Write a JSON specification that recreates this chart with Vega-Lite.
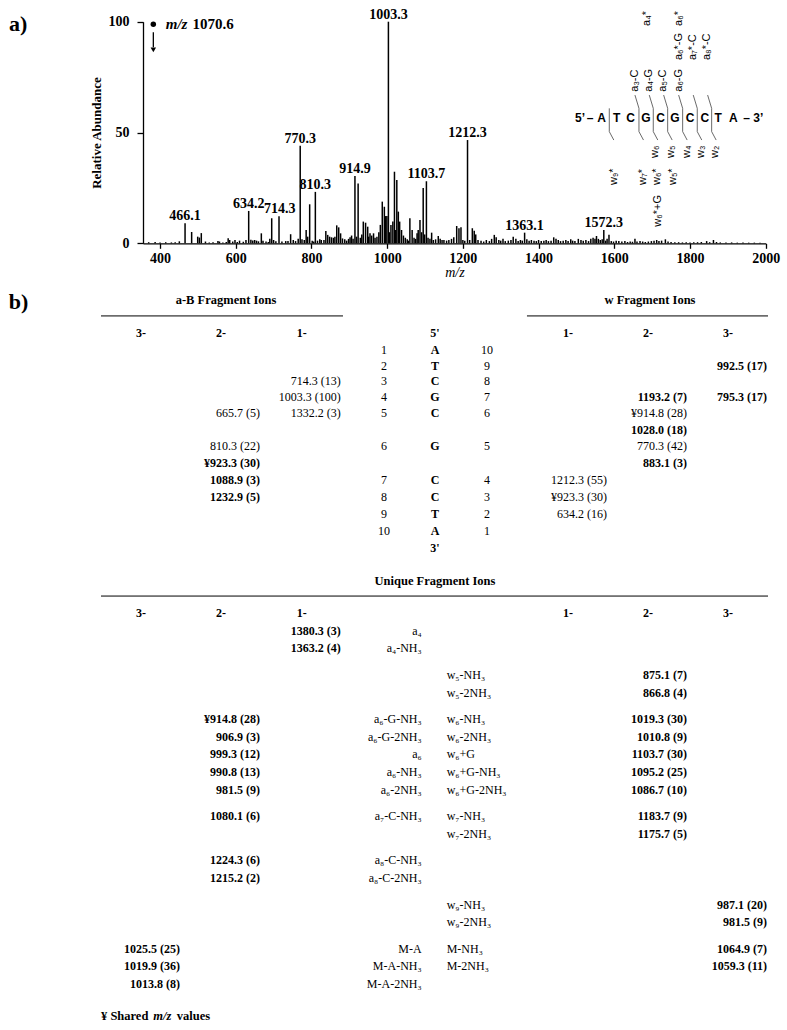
{
  "$schema": "https://vega.github.io/schema/vega-lite/v6.json",
  "width": 787,
  "height": 1030,
  "padding": 0,
  "autosize": {"type": "none"},
  "config": {"view": {"stroke": null}, "text": {"color": "#000000", "fill": "#000000"}},
  "datasets": {
    "peaks": [
      {"mz":370,"ab":0.5},{"mz":387,"ab":0.6},{"mz":400,"ab":0.4},{"mz":415,"ab":0.5},{"mz":430,"ab":0.4},{"mz":440,"ab":0.5},{"mz":451,"ab":0.9},{"mz":466.1,"ab":9.0},{"mz":483.5,"ab":5.1},{"mz":499.5,"ab":3.0},{"mz":504,"ab":2.6},{"mz":509,"ab":4.6},{"mz":520,"ab":0.8},{"mz":530,"ab":0.4},{"mz":540,"ab":0.5},{"mz":553,"ab":1.0},{"mz":557,"ab":0.8},{"mz":566,"ab":0.4},{"mz":575,"ab":0.6},{"mz":580,"ab":2.3},{"mz":584,"ab":1.5},{"mz":592,"ab":0.8},{"mz":598,"ab":1.5},{"mz":604,"ab":0.6},{"mz":610,"ab":1.2},{"mz":620,"ab":0.7},{"mz":627,"ab":1.5},{"mz":634.2,"ab":14.6},{"mz":640,"ab":1.6},{"mz":645,"ab":1.3},{"mz":650,"ab":1.5},{"mz":655,"ab":1.2},{"mz":660,"ab":0.9},{"mz":667.6,"ab":4.5},{"mz":672,"ab":1.2},{"mz":680,"ab":0.8},{"mz":686,"ab":0.6},{"mz":690,"ab":2.0},{"mz":695,"ab":11.3},{"mz":700,"ab":1.5},{"mz":706,"ab":0.9},{"mz":714.3,"ab":12.2},{"mz":722,"ab":0.8},{"mz":732,"ab":1.0},{"mz":738,"ab":1.0},{"mz":745,"ab":4.1},{"mz":752,"ab":1.5},{"mz":758,"ab":1.0},{"mz":765,"ab":2.0},{"mz":770.3,"ab":44},{"mz":775,"ab":1.8},{"mz":781,"ab":1.5},{"mz":786,"ab":6.0},{"mz":790,"ab":3.0},{"mz":795.3,"ab":17.6},{"mz":802,"ab":1.2},{"mz":806,"ab":0.8},{"mz":810.3,"ab":23.2},{"mz":816,"ab":1.2},{"mz":822,"ab":1.8},{"mz":826,"ab":1.5},{"mz":833,"ab":1.5},{"mz":838,"ab":5.6},{"mz":843,"ab":3.8},{"mz":848,"ab":3.0},{"mz":853,"ab":2.7},{"mz":858,"ab":2.5},{"mz":862,"ab":3.0},{"mz":866.8,"ab":8.1},{"mz":872,"ab":7.2},{"mz":877,"ab":4.5},{"mz":882,"ab":2.2},{"mz":888,"ab":1.8},{"mz":893,"ab":1.2},{"mz":898,"ab":2.0},{"mz":902,"ab":2.7},{"mz":906,"ab":3.5},{"mz":910,"ab":2.0},{"mz":914.9,"ab":30.4},{"mz":919,"ab":3.0},{"mz":923.3,"ab":27.0},{"mz":929,"ab":2.5},{"mz":933,"ab":4.0},{"mz":937,"ab":9.8},{"mz":943,"ab":9.3},{"mz":948.6,"ab":7.5},{"mz":951,"ab":3.0},{"mz":954.7,"ab":4.5},{"mz":959,"ab":3.5},{"mz":964,"ab":4.5},{"mz":968,"ab":2.5},{"mz":973,"ab":3.0},{"mz":978,"ab":5.0},{"mz":982,"ab":8.3},{"mz":987.1,"ab":18.8},{"mz":992.6,"ab":16.5},{"mz":996,"ab":12.3},{"mz":999.3,"ab":12.3},{"mz":1003.3,"ab":100},{"mz":1006,"ab":5},{"mz":1010,"ab":8.3},{"mz":1015,"ab":9.8},{"mz":1019.3,"ab":32.3},{"mz":1022,"ab":6},{"mz":1025.5,"ab":28.6},{"mz":1029.5,"ab":14.3},{"mz":1033,"ab":9.8},{"mz":1038,"ab":6.0},{"mz":1043,"ab":3.5},{"mz":1048,"ab":2.5},{"mz":1053,"ab":1.8},{"mz":1056,"ab":1.2},{"mz":1060,"ab":11.3},{"mz":1066,"ab":6.0},{"mz":1071,"ab":2.5},{"mz":1075,"ab":2.0},{"mz":1079,"ab":4.5},{"mz":1082,"ab":6.0},{"mz":1086.7,"ab":10.5},{"mz":1091,"ab":5.0},{"mz":1095.2,"ab":25},{"mz":1099,"ab":4.0},{"mz":1103.7,"ab":28},{"mz":1108,"ab":2.5},{"mz":1113,"ab":2.0},{"mz":1117.5,"ab":4.8},{"mz":1122,"ab":1.5},{"mz":1128,"ab":1.8},{"mz":1135,"ab":3.3},{"mz":1140,"ab":2.0},{"mz":1145,"ab":1.5},{"mz":1150,"ab":1.5},{"mz":1157,"ab":1.2},{"mz":1163,"ab":1.5},{"mz":1170,"ab":2.0},{"mz":1176,"ab":2.7},{"mz":1183.7,"ab":7.8},{"mz":1189.7,"ab":6.8},{"mz":1195,"ab":7.2},{"mz":1200,"ab":1.5},{"mz":1205,"ab":1.2},{"mz":1212.3,"ab":46.6},{"mz":1218,"ab":1.5},{"mz":1225,"ab":6.8},{"mz":1230,"ab":5.7},{"mz":1234,"ab":4.0},{"mz":1240,"ab":1.5},{"mz":1248,"ab":1.2},{"mz":1255,"ab":0.8},{"mz":1262,"ab":1.5},{"mz":1270,"ab":1.0},{"mz":1276,"ab":2.0},{"mz":1283,"ab":3.8},{"mz":1288,"ab":2.7},{"mz":1295,"ab":1.5},{"mz":1300,"ab":1.2},{"mz":1306,"ab":2.0},{"mz":1312,"ab":1.0},{"mz":1320,"ab":1.2},{"mz":1327,"ab":1.5},{"mz":1333,"ab":3.0},{"mz":1340,"ab":2.0},{"mz":1346,"ab":1.0},{"mz":1352,"ab":1.5},{"mz":1357,"ab":1.2},{"mz":1363.1,"ab":4.8},{"mz":1369,"ab":1.8},{"mz":1375,"ab":1.2},{"mz":1381,"ab":1.5},{"mz":1388,"ab":1.2},{"mz":1394,"ab":1.0},{"mz":1400,"ab":1.5},{"mz":1407,"ab":1.0},{"mz":1414,"ab":1.2},{"mz":1420,"ab":1.5},{"mz":1426,"ab":1.0},{"mz":1433,"ab":1.2},{"mz":1440,"ab":2.7},{"mz":1446,"ab":2.0},{"mz":1452,"ab":1.5},{"mz":1458,"ab":1.0},{"mz":1465,"ab":1.2},{"mz":1472,"ab":1.5},{"mz":1478,"ab":1.0},{"mz":1485,"ab":1.8},{"mz":1490,"ab":1.2},{"mz":1496,"ab":1.0},{"mz":1505,"ab":2.0},{"mz":1512,"ab":1.5},{"mz":1518,"ab":1.2},{"mz":1525,"ab":1.5},{"mz":1532,"ab":1.0},{"mz":1538,"ab":2.0},{"mz":1544,"ab":2.5},{"mz":1549,"ab":2.0},{"mz":1553,"ab":3.3},{"mz":1558,"ab":2.0},{"mz":1563,"ab":1.5},{"mz":1568,"ab":1.8},{"mz":1572.3,"ab":6.0},{"mz":1577,"ab":1.2},{"mz":1581,"ab":2.0},{"mz":1586,"ab":3.9},{"mz":1592,"ab":1.0},{"mz":1598,"ab":0.8},{"mz":1605,"ab":1.2},{"mz":1612,"ab":1.0},{"mz":1620,"ab":0.8},{"mz":1628,"ab":1.0},{"mz":1635,"ab":0.6},{"mz":1642,"ab":0.8},{"mz":1648,"ab":0.7},{"mz":1654.6,"ab":2.1},{"mz":1660,"ab":0.8},{"mz":1668,"ab":1.0},{"mz":1675,"ab":0.8},{"mz":1682,"ab":0.6},{"mz":1690,"ab":0.8},{"mz":1698,"ab":1.0},{"mz":1705,"ab":1.2},{"mz":1712,"ab":1.5},{"mz":1718,"ab":1.0},{"mz":1725,"ab":1.2},{"mz":1735,"ab":1.8},{"mz":1742,"ab":0.8},{"mz":1750,"ab":0.6},{"mz":1760,"ab":0.5},{"mz":1770,"ab":0.5},{"mz":1780,"ab":0.4},{"mz":1790,"ab":0.5},{"mz":1800,"ab":0.4},{"mz":1810,"ab":0.5},{"mz":1820,"ab":0.5},{"mz":1830,"ab":0.6},{"mz":1844,"ab":1.0},{"mz":1852,"ab":0.5},{"mz":1862,"ab":1.5},{"mz":1870,"ab":0.6},{"mz":1880,"ab":0.4},{"mz":1895,"ab":0.4},{"mz":1910,"ab":0.4},{"mz":1925,"ab":0.3},{"mz":1940,"ab":0.4},{"mz":1955,"ab":0.3},{"mz":1970,"ab":0.3},{"mz":1985,"ab":0.3}
    ],
    "peakLabels": [
      {"mz":466.1,"ab":9.0,"lab":"466.1"},{"mz":634.2,"ab":14.6,"lab":"634.2"},{"mz":716,"ab":12.2,"lab":"714.3"},{"mz":770.3,"ab":44,"lab":"770.3"},{"mz":810.3,"ab":23.2,"lab":"810.3"},{"mz":914.9,"ab":30.4,"lab":"914.9"},{"mz":1003.3,"ab":100,"lab":"1003.3"},{"mz":1103.7,"ab":28,"lab":"1103.7"},{"mz":1212.3,"ab":46.6,"lab":"1212.3"},{"mz":1363.1,"ab":4.8,"lab":"1363.1"},{"mz":1572.3,"ab":6.0,"lab":"1572.3"}
    ],
    "seq": [
      {"mz":1509.4,"ab":56.4,"t":"5’"},{"mz":1535.8,"ab":56.4,"t":"–"},{"mz":1566.7,"ab":56.4,"t":"A"},{"mz":1606.3,"ab":56.4,"t":"T"},{"mz":1643.3,"ab":56.4,"t":"C"},{"mz":1683.7,"ab":56.4,"t":"G"},{"mz":1722.5,"ab":56.4,"t":"C"},{"mz":1760.3,"ab":56.4,"t":"G"},{"mz":1799.9,"ab":56.4,"t":"C"},{"mz":1839.5,"ab":56.4,"t":"C"},{"mz":1874.6,"ab":56.4,"t":"T"},{"mz":1914.3,"ab":56.4,"t":"A"},{"mz":1949.7,"ab":56.4,"t":"–"},{"mz":1980.3,"ab":56.4,"t":"3’"}
    ],
    "cuts": [
      {"mz":1586.8,"ab":60.9,"mz2":1586.8,"ab2":50.4},{"mz":1586.8,"ab":50.4,"mz2":1598.7,"ab2":46.6},
      {"mz":1654.6,"ab":66.9,"mz2":1665.2,"ab2":60.9},{"mz":1665.2,"ab":60.9,"mz2":1665.2,"ab2":50.4},{"mz":1665.2,"ab":50.4,"mz2":1677.1,"ab2":46.6},
      {"mz":1692.4,"ab":66.9,"mz2":1703,"ab2":60.9},{"mz":1703,"ab":60.9,"mz2":1703,"ab2":50.4},{"mz":1703,"ab":50.4,"mz2":1714.9,"ab2":46.6},
      {"mz":1730.4,"ab":66.9,"mz2":1741,"ab2":60.9},{"mz":1741,"ab":60.9,"mz2":1741,"ab2":50.4},{"mz":1741,"ab":50.4,"mz2":1752.9,"ab2":46.6},
      {"mz":1770,"ab":66.9,"mz2":1780.6,"ab2":60.9},{"mz":1780.6,"ab":60.9,"mz2":1780.6,"ab2":50.4},{"mz":1780.6,"ab":50.4,"mz2":1792.5,"ab2":46.6},
      {"mz":1808.6,"ab":66.9,"mz2":1819.2,"ab2":60.9},{"mz":1819.2,"ab":60.9,"mz2":1819.2,"ab2":50.4},{"mz":1819.2,"ab":50.4,"mz2":1831.1,"ab2":46.6},
      {"mz":1846.6,"ab":66.9,"mz2":1857.2,"ab2":60.9},{"mz":1857.2,"ab":60.9,"mz2":1857.2,"ab2":50.4},{"mz":1857.2,"ab":50.4,"mz2":1869.1,"ab2":46.6}
    ],
    "ions": [
      {"mz":1654.6,"ab":68.4,"t":"a₃-C"},{"mz":1691.6,"ab":68.4,"t":"a₄-G"},{"mz":1729.4,"ab":68.4,"t":"a₅-C"},{"mz":1771.6,"ab":68.4,"t":"a₆-G"},
      {"mz":1771.6,"ab":82.7,"t":"a₆*-G"},{"mz":1808.6,"ab":82.7,"t":"a₇*-C"},{"mz":1845.6,"ab":82.7,"t":"a₈*-C"},
      {"mz":1685.5,"ab":98.1,"t":"a₄*"},{"mz":1771.6,"ab":98.1,"t":"a₆*"},
      {"mz":1707.5,"ab":38.5,"t":"w₆"},{"mz":1749,"ab":38.5,"t":"w₅"},{"mz":1791.2,"ab":38.5,"t":"w₄"},{"mz":1829,"ab":38.5,"t":"w₃"},{"mz":1866,"ab":38.5,"t":"w₂"},
      {"mz":1599,"ab":26.3,"t":"w₉*"},{"mz":1676.5,"ab":26.3,"t":"w₇*"},{"mz":1713.4,"ab":26.3,"t":"w₆*"},{"mz":1755.7,"ab":26.3,"t":"w₅*"},
      {"mz":1716,"ab":7.5,"t":"w₆*+G"}
    ],
    "precursor": [
      {"mz":382.3,"ab":98.9,"t":"m/z","t2":"1070.6","mz_t":415,"mz_t2":486}
    ],
    "table": [
      {"col":0.575,"row":-2,"t":"a-B Fragment Ions","kind":"title"},
      {"col":6.5375,"row":-2,"t":"w Fragment Ions","kind":"title"},
      {"col":4,"row":15.02,"t":"Unique Fragment Ions","kind":"title"},
      {"col":-2.14,"row":-1.9,"t":"b)","kind":"panel"},
      {"col":0,"row":0,"t":"3-","kind":"hdr"},{"col":1,"row":0,"t":"2-","kind":"hdr"},{"col":2,"row":0,"t":"1-","kind":"hdr"},
      {"col":6,"row":0,"t":"1-","kind":"hdr"},{"col":7,"row":0,"t":"2-","kind":"hdr"},{"col":8,"row":0,"t":"3-","kind":"hdr"},
      {"col":4,"row":0,"t":"5'","kind":"base"},{"col":4,"row":13,"t":"3'","kind":"base"},
      {"col":3,"row":1,"t":"1","kind":"pos"},{"col":4,"row":1,"t":"A","kind":"base"},{"col":5,"row":1,"t":"10","kind":"pos"},
      {"col":3,"row":2,"t":"2","kind":"pos"},{"col":4,"row":2,"t":"T","kind":"base"},{"col":5,"row":2,"t":"9","kind":"pos"},
      {"col":3,"row":3,"t":"3","kind":"pos"},{"col":4,"row":3,"t":"C","kind":"base"},{"col":5,"row":3,"t":"8","kind":"pos"},
      {"col":3,"row":4,"t":"4","kind":"pos"},{"col":4,"row":4,"t":"G","kind":"base"},{"col":5,"row":4,"t":"7","kind":"pos"},
      {"col":3,"row":5,"t":"5","kind":"pos"},{"col":4,"row":5,"t":"C","kind":"base"},{"col":5,"row":5,"t":"6","kind":"pos"},
      {"col":3,"row":7,"t":"6","kind":"pos"},{"col":4,"row":7,"t":"G","kind":"base"},{"col":5,"row":7,"t":"5","kind":"pos"},
      {"col":3,"row":9,"t":"7","kind":"pos"},{"col":4,"row":9,"t":"C","kind":"base"},{"col":5,"row":9,"t":"4","kind":"pos"},
      {"col":3,"row":10,"t":"8","kind":"pos"},{"col":4,"row":10,"t":"C","kind":"base"},{"col":5,"row":10,"t":"3","kind":"pos"},
      {"col":3,"row":11,"t":"9","kind":"pos"},{"col":4,"row":11,"t":"T","kind":"base"},{"col":5,"row":11,"t":"2","kind":"pos"},
      {"col":3,"row":12,"t":"10","kind":"pos"},{"col":4,"row":12,"t":"A","kind":"base"},{"col":5,"row":12,"t":"1","kind":"pos"},
      {"col":8,"row":2,"t":"992.5 (17)","kind":"val","b":true},
      {"col":2,"row":3,"t":"714.3 (13)","kind":"val","b":false},
      {"col":2,"row":4,"t":"1003.3 (100)","kind":"val","b":false},
      {"col":7,"row":4,"t":"1193.2 (7)","kind":"val","b":true},
      {"col":8,"row":4,"t":"795.3 (17)","kind":"val","b":true},
      {"col":1,"row":5,"t":"665.7 (5)","kind":"val","b":false},
      {"col":2,"row":5,"t":"1332.2 (3)","kind":"val","b":false},
      {"col":7,"row":5,"t":"¥914.8 (28)","kind":"val","b":false},
      {"col":7,"row":6,"t":"1028.0 (18)","kind":"val","b":true},
      {"col":1,"row":7,"t":"810.3 (22)","kind":"val","b":false},
      {"col":7,"row":7,"t":"770.3 (42)","kind":"val","b":false},
      {"col":1,"row":8,"t":"¥923.3 (30)","kind":"val","b":true},
      {"col":7,"row":8,"t":"883.1 (3)","kind":"val","b":true},
      {"col":1,"row":9,"t":"1088.9 (3)","kind":"val","b":true},
      {"col":6,"row":9,"t":"1212.3 (55)","kind":"val","b":false},
      {"col":1,"row":10,"t":"1232.9 (5)","kind":"val","b":true},
      {"col":6,"row":10,"t":"¥923.3 (30)","kind":"val","b":false},
      {"col":6,"row":11,"t":"634.2 (16)","kind":"val","b":false},
      {"col":0,"row":17,"t":"3-","kind":"hdr"},{"col":1,"row":17,"t":"2-","kind":"hdr"},{"col":2,"row":17,"t":"1-","kind":"hdr"},
      {"col":6,"row":17,"t":"1-","kind":"hdr"},{"col":7,"row":17,"t":"2-","kind":"hdr"},{"col":8,"row":17,"t":"3-","kind":"hdr"},
      {"col":2,"row":18,"t":"1380.3 (3)","kind":"val","b":true},{"col":4,"row":18,"t":"a₄","kind":"alab"},
      {"col":2,"row":19,"t":"1363.2 (4)","kind":"val","b":true},{"col":4,"row":19,"t":"a₄-NH₃","kind":"alab"},
      {"col":4,"row":20.5,"t":"w₅-NH₃","kind":"wlab"},{"col":7,"row":20.5,"t":"875.1 (7)","kind":"val","b":true},
      {"col":4,"row":21.5,"t":"w₅-2NH₃","kind":"wlab"},{"col":7,"row":21.5,"t":"866.8 (4)","kind":"val","b":true},
      {"col":1,"row":23,"t":"¥914.8 (28)","kind":"val","b":true},{"col":4,"row":23,"t":"a₆-G-NH₃","kind":"alab"},{"col":4,"row":23,"t":"w₆-NH₃","kind":"wlab"},{"col":7,"row":23,"t":"1019.3 (30)","kind":"val","b":true},
      {"col":1,"row":24,"t":"906.9 (3)","kind":"val","b":true},{"col":4,"row":24,"t":"a₆-G-2NH₃","kind":"alab"},{"col":4,"row":24,"t":"w₆-2NH₃","kind":"wlab"},{"col":7,"row":24,"t":"1010.8 (9)","kind":"val","b":true},
      {"col":1,"row":25,"t":"999.3 (12)","kind":"val","b":true},{"col":4,"row":25,"t":"a₆","kind":"alab"},{"col":4,"row":25,"t":"w₆+G","kind":"wlab"},{"col":7,"row":25,"t":"1103.7 (30)","kind":"val","b":true},
      {"col":1,"row":26,"t":"990.8 (13)","kind":"val","b":true},{"col":4,"row":26,"t":"a₆-NH₃","kind":"alab"},{"col":4,"row":26,"t":"w₆+G-NH₃","kind":"wlab"},{"col":7,"row":26,"t":"1095.2 (25)","kind":"val","b":true},
      {"col":1,"row":27,"t":"981.5 (9)","kind":"val","b":true},{"col":4,"row":27,"t":"a₆-2NH₃","kind":"alab"},{"col":4,"row":27,"t":"w₆+G-2NH₃","kind":"wlab"},{"col":7,"row":27,"t":"1086.7 (10)","kind":"val","b":true},
      {"col":1,"row":28.5,"t":"1080.1 (6)","kind":"val","b":true},{"col":4,"row":28.5,"t":"a₇-C-NH₃","kind":"alab"},{"col":4,"row":28.5,"t":"w₇-NH₃","kind":"wlab"},{"col":7,"row":28.5,"t":"1183.7 (9)","kind":"val","b":true},
      {"col":4,"row":29.5,"t":"w₇-2NH₃","kind":"wlab"},{"col":7,"row":29.5,"t":"1175.7 (5)","kind":"val","b":true},
      {"col":1,"row":31,"t":"1224.3 (6)","kind":"val","b":true},{"col":4,"row":31,"t":"a₈-C-NH₃","kind":"alab"},
      {"col":1,"row":32,"t":"1215.2 (2)","kind":"val","b":true},{"col":4,"row":32,"t":"a₈-C-2NH₃","kind":"alab"},
      {"col":4,"row":33.5,"t":"w₉-NH₃","kind":"wlab"},{"col":8,"row":33.5,"t":"987.1 (20)","kind":"val","b":true},
      {"col":4,"row":34.5,"t":"w₉-2NH₃","kind":"wlab"},{"col":8,"row":34.5,"t":"981.5 (9)","kind":"val","b":true},
      {"col":0,"row":36,"t":"1025.5 (25)","kind":"val","b":true},{"col":4,"row":36,"t":"M-A","kind":"alab"},{"col":4,"row":36,"t":"M-NH₃","kind":"wlab"},{"col":8,"row":36,"t":"1064.9 (7)","kind":"val","b":true},
      {"col":0,"row":37,"t":"1019.9 (36)","kind":"val","b":true},{"col":4,"row":37,"t":"M-A-NH₃","kind":"alab"},{"col":4,"row":37,"t":"M-2NH₃","kind":"wlab"},{"col":8,"row":37,"t":"1059.3 (11)","kind":"val","b":true},
      {"col":0,"row":38,"t":"1013.8 (8)","kind":"val","b":true},{"col":4,"row":38,"t":"M-A-2NH₃","kind":"alab"},
      {"col":-0.9875,"row":39.8,"t":"¥ Shared","kind":"foot"},
      {"col":-0.334,"row":39.8,"t":"m/z","kind":"footi"},
      {"col":-0.041,"row":39.8,"t":"values","kind":"foot"}
    ],
    "lines": [
      {"col":-0.9875,"col2":2.053,"row":-1.04},
      {"col":5.333,"col2":8.0125,"row":-1.04},
      {"col":-0.9875,"col2":8.0125,"row":15.96}
    ]
  },
  "layer": [
    {
      "encoding": {
        "x": {"field": "mz", "type": "quantitative",
          "scale": {"domain": [355, 2000], "range": [143, 765.7], "nice": false, "zero": false},
          "axis": {"values": [400,600,800,1000,1200,1400,1600,1800,2000], "orient": "bottom", "offset": -786.7, "format": "d",
            "title": "m/z", "titleFont": "Liberation Serif", "titleFontStyle": "italic", "titleFontWeight": "normal", "titleFontSize": 14, "titleColor": "black", "titleY": 29, "titleBaseline": "middle",
            "labelFont": "Liberation Serif", "labelFontWeight": "bold", "labelFontSize": 14, "labelColor": "black", "labelPadding": 3, "labelFlush": false, "labelOverlap": false,
            "tickSize": 5, "tickColor": "black", "tickWidth": 1.3, "domainColor": "black", "domainWidth": 1.3, "grid": false}},
        "y": {"field": "ab", "type": "quantitative",
          "scale": {"domain": [0, 100], "range": [243.3, 21.7], "nice": false, "zero": false},
          "axis": {"values": [0, 50, 100], "orient": "left", "offset": -143,
            "title": "Relative Abundance", "titleFont": "Liberation Serif", "titleFontWeight": "bold", "titleFontSize": 13, "titleColor": "black", "titlePadding": 5,
            "labelFont": "Liberation Serif", "labelFontWeight": "bold", "labelFontSize": 14, "labelColor": "black", "labelPadding": 8,
            "tickSize": 6, "tickColor": "black", "tickWidth": 1.3, "domainColor": "black", "domainWidth": 1.3, "grid": false}}
      },
      "layer": [
        {"data": {"name": "peaks"}, "mark": {"type": "rule", "color": "black", "strokeWidth": 1.5}, "encoding": {"y2": {"datum": 0}}},
        {"data": {"name": "peakLabels"}, "mark": {"type": "text", "color": "black", "font": "Liberation Serif", "fontWeight": "bold", "fontSize": 14, "baseline": "alphabetic", "align": "center", "dy": -3}, "encoding": {"text": {"field": "lab"}}},
        {"data": {"name": "seq"}, "mark": {"type": "text", "color": "black", "font": "Liberation Sans", "fontWeight": "bold", "fontSize": 12, "baseline": "middle", "align": "center"}, "encoding": {"text": {"field": "t"}}},
        {"data": {"name": "cuts"}, "mark": {"type": "rule", "color": "#444444", "strokeWidth": 0.8}, "encoding": {"x2": {"field": "mz2"}, "y2": {"field": "ab2"}}},
        {"data": {"name": "ions"}, "mark": {"type": "text", "color": "black", "font": "Liberation Sans", "fontSize": 11, "angle": 270, "baseline": "middle", "align": "left"}, "encoding": {"text": {"field": "t"}}},
        {"data": {"name": "precursor"}, "mark": {"type": "point", "shape": "circle", "filled": true, "size": 30, "color": "black", "opacity": 1}},
        {"data": {"name": "precursor"}, "mark": {"type": "rule", "color": "black", "strokeWidth": 1.3}, "encoding": {"y": {"datum": 95.2}, "y2": {"datum": 88.5}}},
        {"data": {"name": "precursor"}, "mark": {"type": "point", "shape": "triangle-down", "filled": true, "size": 30, "color": "black", "opacity": 1}, "encoding": {"y": {"datum": 87.3}}},
        {"data": {"name": "precursor"}, "mark": {"type": "text", "color": "black", "font": "Liberation Serif", "fontWeight": "bold", "fontStyle": "italic", "fontSize": 15, "baseline": "middle", "align": "left"}, "encoding": {"x": {"field": "mz_t", "type": "quantitative"}, "text": {"field": "t"}}},
        {"data": {"name": "precursor"}, "mark": {"type": "text", "color": "black", "font": "Liberation Serif", "fontWeight": "bold", "fontSize": 15, "baseline": "middle", "align": "left"}, "encoding": {"x": {"field": "mz_t2", "type": "quantitative"}, "text": {"field": "t2"}}},
        {"data": {"values": [{"mz": 1.2, "ab": 99, "t": "a)"}]}, "mark": {"type": "text", "color": "black", "font": "Liberation Serif", "fontWeight": "bold", "fontSize": 22, "baseline": "middle", "align": "left"}, "encoding": {"text": {"field": "t"}}}
      ]
    },
    {
      "data": {"name": "table"},
      "encoding": {
        "x": {"field": "col", "type": "quantitative", "axis": null,
          "scale": {"domain": [0,1,2,3,4,5,6,7,8], "range": [180,260,340.7,384,435,487,607,687,767], "nice": false, "zero": false}},
        "y": {"field": "row", "type": "quantitative", "axis": null,
          "scale": {"domain": [0,1,5,13,17,38], "range": [333.3,350,412.7,547.8,613,984], "nice": false, "zero": false}},
        "text": {"field": "t"}
      },
      "layer": [
        {"transform": [{"filter": "datum.kind == 'title'"}], "mark": {"type": "text", "color": "black", "font": "Liberation Serif", "fontWeight": "bold", "fontSize": 12.5, "baseline": "middle", "align": "center"}},
        {"transform": [{"filter": "datum.kind == 'panel'"}], "mark": {"type": "text", "color": "black", "font": "Liberation Serif", "fontWeight": "bold", "fontSize": 22, "baseline": "middle", "align": "left"}},
        {"transform": [{"filter": "datum.kind == 'hdr'"}], "mark": {"type": "text", "color": "black", "font": "Liberation Serif", "fontWeight": "bold", "fontSize": 12, "baseline": "middle", "align": "center", "dx": -39}},
        {"transform": [{"filter": "datum.kind == 'base'"}], "mark": {"type": "text", "color": "black", "font": "Liberation Serif", "fontWeight": "bold", "fontSize": 12, "baseline": "middle", "align": "center"}},
        {"transform": [{"filter": "datum.kind == 'pos'"}], "mark": {"type": "text", "color": "black", "font": "Liberation Serif", "fontSize": 12, "baseline": "middle", "align": "center"}},
        {"transform": [{"filter": "datum.kind == 'val' && datum.b"}], "mark": {"type": "text", "color": "black", "font": "Liberation Serif", "fontWeight": "bold", "fontSize": 12, "baseline": "middle", "align": "right"}},
        {"transform": [{"filter": "datum.kind == 'val' && !datum.b"}], "mark": {"type": "text", "color": "black", "font": "Liberation Serif", "fontSize": 12, "baseline": "middle", "align": "right"}},
        {"transform": [{"filter": "datum.kind == 'alab'"}], "mark": {"type": "text", "color": "black", "font": "Liberation Serif", "fontSize": 12, "baseline": "middle", "align": "right", "dx": -13.3}},
        {"transform": [{"filter": "datum.kind == 'wlab'"}], "mark": {"type": "text", "color": "black", "font": "Liberation Serif", "fontSize": 12, "baseline": "middle", "align": "left", "dx": 11.7}},
        {"transform": [{"filter": "datum.kind == 'foot'"}], "mark": {"type": "text", "color": "black", "font": "Liberation Serif", "fontWeight": "bold", "fontSize": 12.5, "baseline": "middle", "align": "left"}},
        {"transform": [{"filter": "datum.kind == 'footi'"}], "mark": {"type": "text", "color": "black", "font": "Liberation Serif", "fontWeight": "bold", "fontStyle": "italic", "fontSize": 12.5, "baseline": "middle", "align": "left"}},
        {"data": {"name": "lines"}, "mark": {"type": "rule", "color": "black", "strokeWidth": 1}, "encoding": {"x2": {"field": "col2"}, "text": null}}
      ]
    }
  ],
  "resolve": {"scale": {"x": "independent", "y": "independent"}, "axis": {"x": "independent", "y": "independent"}}
}
